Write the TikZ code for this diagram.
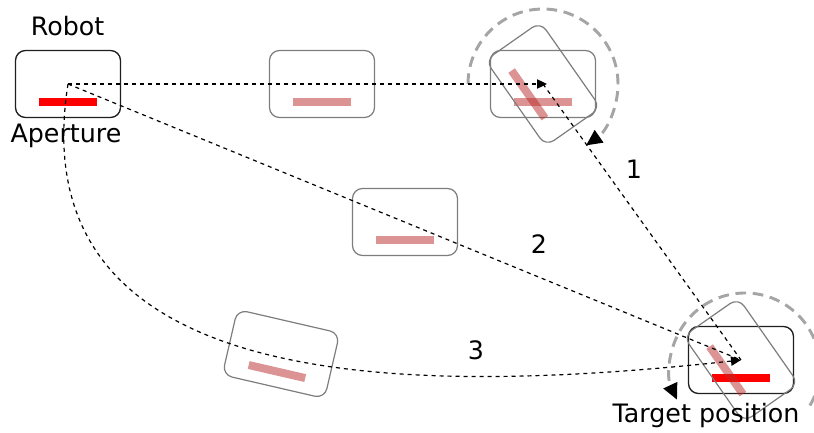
\documentclass[tikz,border=0pt]{standalone}
\usepackage{fontspec}
\setmainfont{DejaVu Sans}
\usetikzlibrary{arrows.meta}
\definecolor{ghostline}{RGB}{125,125,125}
\definecolor{ghostfill}{RGB}{185,40,40}
\definecolor{ringgray}{RGB}{165,165,165}
\tikzset{
  pics/vehicle/.style n args={2}{code={
    \draw[#1, rounded corners=7.5pt] (-52.5,-33.5) rectangle (52.5,33.5);
    \fill[#2] (-29,14) rectangle (29,22);
  }},
  realbox/.style={draw=black!88, line width=1pt},
  realbar/.style={fill=red},
  ghostbox/.style={draw=ghostline, line width=0.9pt},
  ghostbar/.style={fill=ghostfill, fill opacity=0.5},
  txt/.style={font=\fontsize{19}{23}\selectfont, inner sep=0pt, anchor=base},
  route/.style={draw=black, line width=0.9pt, dash pattern=on 3pt off 3pt},
  smalltip/.style={-{Triangle[length=7.5pt,width=7pt]}},
  ring/.style={draw=ringgray, line width=2.2pt, dash pattern=on 8pt off 5pt},
  bigtip/.style={-{Triangle[length=12pt,width=11pt,color=black]}},
}
\begin{document}
\begin{tikzpicture}[x=0.75pt, y=-0.75pt]
  \clip (0,0) rectangle (814,432);

  % reference points of the robot poses
  \coordinate (robot)  at (68,84);
  \coordinate (g1)     at (322,84);
  \coordinate (tb)     at (543,84);
  \coordinate (tbtip)  at (547,84);
  \coordinate (mid)    at (405,222);
  \coordinate (low)    at (281,354);
  \coordinate (target) at (741,360);
  \coordinate (ringc)  at (745,368);

  % robot poses
  \pic at (robot) {vehicle={realbox}{realbar}};
  \pic at (g1) {vehicle={ghostbox}{ghostbar}};
  \pic at (tb) {vehicle={ghostbox}{ghostbar}};
  \pic[rotate=-55] at (tb) {vehicle={ghostbox}{ghostbar}};
  \pic at (mid) {vehicle={ghostbox}{ghostbar}};
  \pic[rotate=-13] at (low) {vehicle={ghostbox}{ghostbar}};
  \pic at (target) {vehicle={realbox}{realbar}};
  \pic[rotate=-55] at (target) {vehicle={ghostbox}{ghostbar}};

  % rotations on the spot
  \draw[ring, bigtip] (tb) ++(180:75) arc[start angle=180, end angle=415, radius=75];
  \draw[ring, bigtip] (ringc) ++(30:75) arc[start angle=30, end angle=-205, radius=75];

  % the three routes
  \draw[route, smalltip] (robot) -- (tbtip);
  \draw[route] (tb) -- (target);
  \draw[route] (robot) -- (target);
  \draw[route, smalltip] (robot) .. controls (18,400) and (420,395) .. (target);

  % labels
  \node[txt] (lrobot)  at (67.5,36) {Robot};
  \node[txt] (lap)     at (66,142)  {Aperture};
  \node[txt] (ltarget) at (706,422) {Target position};
  \node[txt] (n1)      at (634,178) {1};
  \node[txt] (n2)      at (539,253) {2};
  \node[txt] (n3)      at (476,359) {3};
\end{tikzpicture}
\end{document}
